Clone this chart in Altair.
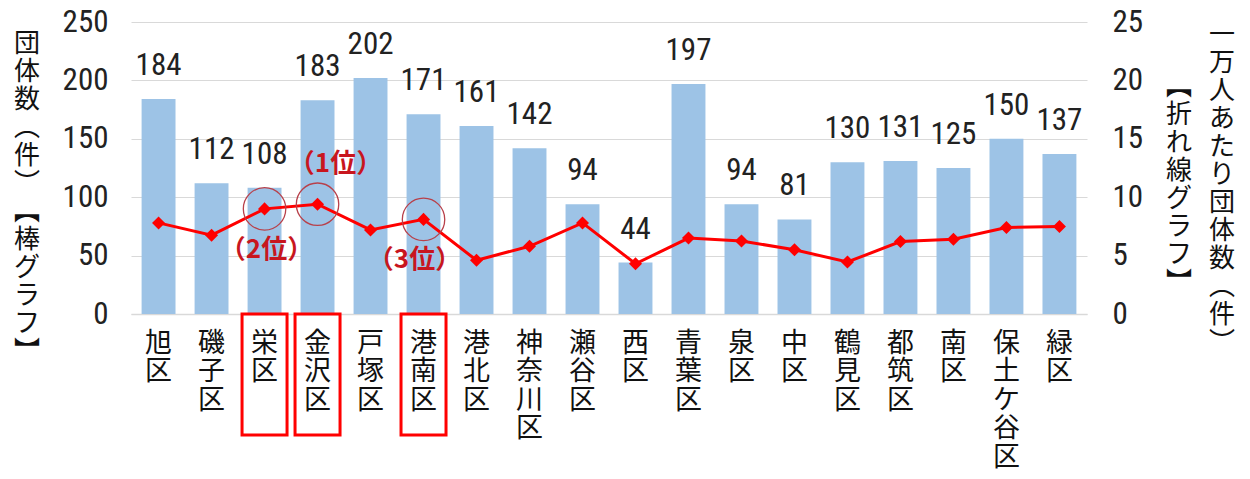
import altair as alt
import pandas as pd

districts = ["旭区", "磯子区", "栄区", "金沢区", "戸塚区", "港南区", "港北区", "神奈川区", "瀬谷区",
             "西区", "青葉区", "泉区", "中区", "鶴見区", "都筑区", "南区", "保土ケ谷区", "緑区"]
counts = [184, 112, 108, 183, 202, 171, 161, 142, 94, 44, 197, 94, 81, 130, 131, 125, 150, 137]
per10k = [7.8, 6.75, 9.0, 9.4, 7.2, 8.1, 4.6, 5.8, 7.8, 4.3, 6.5, 6.25, 5.5, 4.45, 6.2, 6.4, 7.4, 7.5]
ranks = [0, 0, 2, 1, 0, 3, 0, 0, 0, 0, 0, 0, 0, 0, 0, 0, 0, 0]
rank_text = {1: "（1位）", 2: "（2位）", 3: "（3位）"}

left_title = ["団", "体", "数", "︵", "件", "︶", "︻", "棒", "グ", "ラ", "フ", "︼"]
right_title1 = ["一", "万", "人", "あ", "た", "り", "団", "体", "数", "︵", "件", "︶"]
right_title2 = ["︻", "折", "れ", "線", "グ", "ラ", "フ", "︼"]

df = pd.DataFrame({"district": districts, "count": counts, "per10k": per10k, "rank": ranks})
df["rank_label"] = [rank_text.get(r, "") for r in ranks]

CJK = "Noto Sans CJK JP"
NUM = "Liberation Sans Narrow, Roboto Condensed, DejaVu Sans Condensed, sans-serif"

base = alt.Chart(df)

X = alt.X("district:N", sort=districts, title=None,
          scale=alt.Scale(paddingInner=0.36, paddingOuter=0.2),
          axis=alt.Axis(labelAngle=0, labelExpr="split(datum.label, '')",
                        labelFont=CJK, labelFontSize=27, labelLineHeight=28.5,
                        labelBaseline="top", labelPadding=16, labelColor="#111",
                        ticks=False, domain=True, domainColor="#D9D9D9", domainWidth=1.5,
                        grid=False))

YL = alt.Y("count:Q", title=None, scale=alt.Scale(domain=[0, 250]),
           axis=alt.Axis(values=[0, 50, 100, 150, 200, 250], orient="left",
                         labelFont=NUM, labelFontSize=31, labelColor="#222",
                         labelPadding=23, ticks=False, domain=False,
                         grid=True, gridColor="#D9D9D9", gridWidth=1.2))

YR = alt.Y("per10k:Q", title=None, scale=alt.Scale(domain=[0, 25]),
           axis=alt.Axis(values=[0, 5, 10, 15, 20, 25], orient="right",
                         labelFont=NUM, labelFontSize=31, labelColor="#222",
                         labelPadding=25, ticks=False, domain=False, grid=False))

bars = base.mark_bar(color="#9DC3E6").encode(x=X, y=YL)
bar_labels = base.mark_text(font=NUM, fontSize=31, color="#222", baseline="alphabetic", dy=-24).encode(
    x=X, y=YL, text="count:Q")
left = alt.layer(bars, bar_labels)

line = base.mark_line(color="#FF0000", strokeWidth=3).encode(x=X, y=YR)
pts = base.mark_point(shape="diamond", filled=True, color="#FF0000", size=170, opacity=1).encode(x=X, y=YR)
ranked = base.transform_filter("datum.rank > 0")
circles = ranked.mark_point(shape="circle", filled=False, color="#B8404A", size=1800,
                            strokeWidth=1.3, opacity=1).encode(x=X, y=YR)
RK = dict(font=CJK, fontSize=26, fontWeight="bold", color="#C8161E")
r1 = base.transform_filter("datum.rank == 1").mark_text(dx=18, dy=-40, **RK).encode(
    x=X, y=YR, text="rank_label:N")
r2 = base.transform_filter("datum.rank == 2").mark_text(dx=2, dy=41, **RK).encode(
    x=X, y=YR, text="rank_label:N")
r3 = base.transform_filter("datum.rank == 3").mark_text(dx=-9, dy=41, **RK).encode(
    x=X, y=YR, text="rank_label:N")
right = alt.layer(line, pts, circles, r1, r2, r3)

boxes = ranked.mark_bar(size=45, fillOpacity=0, stroke="#FF0000", strokeWidth=3).encode(
    x=X, y=alt.value(292), y2=alt.value(413))

one = pd.DataFrame({"k": [0]})
TT = dict(font=CJK, fontSize=26, lineHeight=28, baseline="top", align="center", color="#111")
t_left = alt.Chart(one).mark_text(text=left_title, **TT).encode(x=alt.value(-104), y=alt.value(9))
t_r1 = alt.Chart(one).mark_text(text=right_title1, **TT).encode(x=alt.value(1091), y=alt.value(0))
t_r2 = alt.Chart(one).mark_text(text=right_title2, **TT).encode(x=alt.value(1048), y=alt.value(52))

chart = alt.layer(left, right, boxes, t_left, t_r1, t_r2).resolve_scale(y="independent").properties(
    width=956, height=292,
    autosize=alt.AutoSizeParams(type="none"),
    padding={"left": 123, "top": 14, "right": 155, "bottom": 155},
    background="white",
).configure_view(stroke=None)

chart.save("out.html", embed_options={"renderer": "svg", "actions": False})
